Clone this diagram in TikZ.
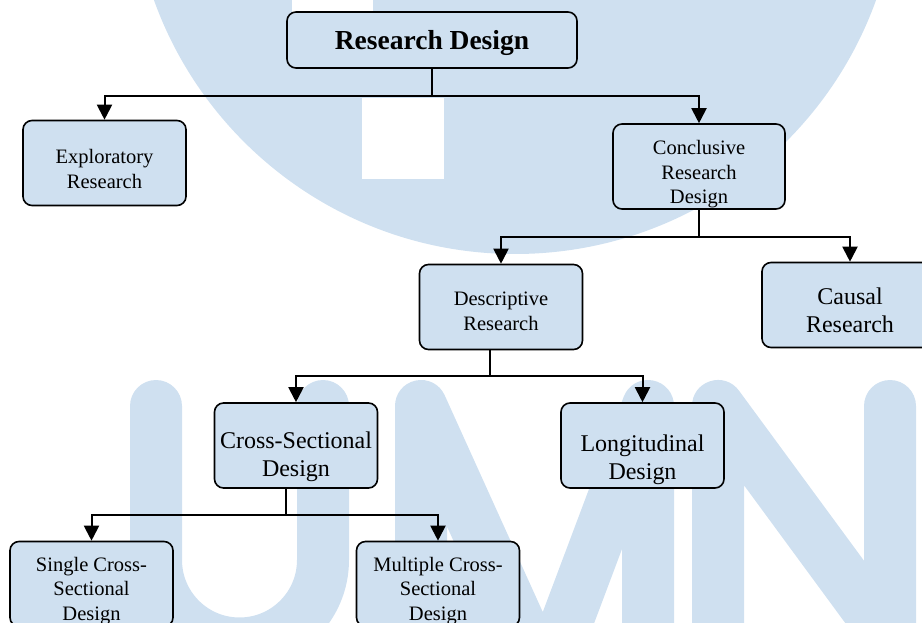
\documentclass[tikz,border=0pt]{standalone}
\usepackage{fontspec}
\setmainfont{Liberation Serif}
\usepackage{xcolor}
\usepackage{tikz}
\usetikzlibrary{arrows.meta}

\definecolor{wmblue}{RGB}{207,224,240}
\definecolor{boxblue}{RGB}{207,224,240}
\newcommand{\lowtext}[2]{\raisebox{-#1}[\height][\depth]{\begin{tabular}{@{}c@{}}#2\end{tabular}}}

\begin{document}
\begin{tikzpicture}[x=1pt,y=-1pt,
  box/.style={draw, line width=1.6pt, rounded corners=9pt, fill=boxblue, align=center,
    minimum width=163pt, minimum height=85pt, inner sep=2pt},
  link/.style={line width=2pt},
  arr/.style={link, -{Triangle[length=15pt,width=15pt]}},
  small/.style={font=\fontsize{20.5}{24.5}\selectfont},
  big/.style={font=\fontsize{24}{28}\selectfont}]
\useasboundingbox (0,0) rectangle (922,623);
\clip (0,0) rectangle (922,623);

\fill [wmblue] (515,-129.5) circle [radius=383.5pt];
\fill [white] (292,0) rectangle (373,40);
\fill [white] (362,98) rectangle (444,179);
\begin{scope}[wmblue, line width=52pt, line cap=round, line join=round]
\draw (156,406) -- (156,560) arc [start angle=180, end angle=360, radius=83.5pt] -- (323,406);
\draw (421,700) -- (421,406) -- (545,680) -- (648,406) -- (648,700);
\draw (718,700) -- (718,406) -- (890,640) -- (890,406);
\end{scope}

\node (rd) at (432,40) [box, minimum width=290pt, minimum height=56pt,
  font=\bfseries\fontsize{27.5}{30}\selectfont] {\lowtext{4pt}{Research Design}};
\node (expl) at (104.5,163) [box, small] {\lowtext{8pt}{Exploratory\\Research}};
\node (concl) at (699,166.5) [box, small, minimum width=172pt] {\lowtext{8pt}{Conclusive\\Research\\Design}};
\node (caus) at (850,305) [box, big, minimum width=176pt] {\lowtext{8pt}{Causal\\Research}};
\node (desc) at (501,307) [box, small] {\lowtext{6pt}{Descriptive\\Research}};
\node (cross) at (296,445.5) [box, big] {\lowtext{11pt}{Cross-Sectional\\Design}};
\node (longi) at (642.5,445.5) [box, big] {\lowtext{14pt}{Longitudinal\\Design}};
\node (single) at (91.5,584) [box, small] {\lowtext{7pt}{Single Cross-\\Sectional\\Design}};
\node (multi) at (438,584) [box, small] {\lowtext{7pt}{Multiple Cross-\\Sectional\\Design}};

\draw [link] (rd.south) -- ++(0,27) coordinate (j1);
\draw [arr] (j1) -| (expl.north);
\draw [arr] (j1) -| (concl.north);

\draw [link] (concl.south) -- ++(0,27) coordinate (j2);
\draw [arr] (j2) -| (desc.north);
\draw [arr] (j2) -| (caus.north);

\draw [link] ([xshift=-11pt]desc.south) -- ++(0,26) coordinate (j3);
\draw [arr] (j3) -| (cross.north);
\draw [arr] (j3) -| (longi.north);

\draw [link] ([xshift=-10pt]cross.south) -- ++(0,26) coordinate (j4);
\draw [arr] (j4) -| (single.north);
\draw [arr] (j4) -| (multi.north);
\end{tikzpicture}
\end{document}
